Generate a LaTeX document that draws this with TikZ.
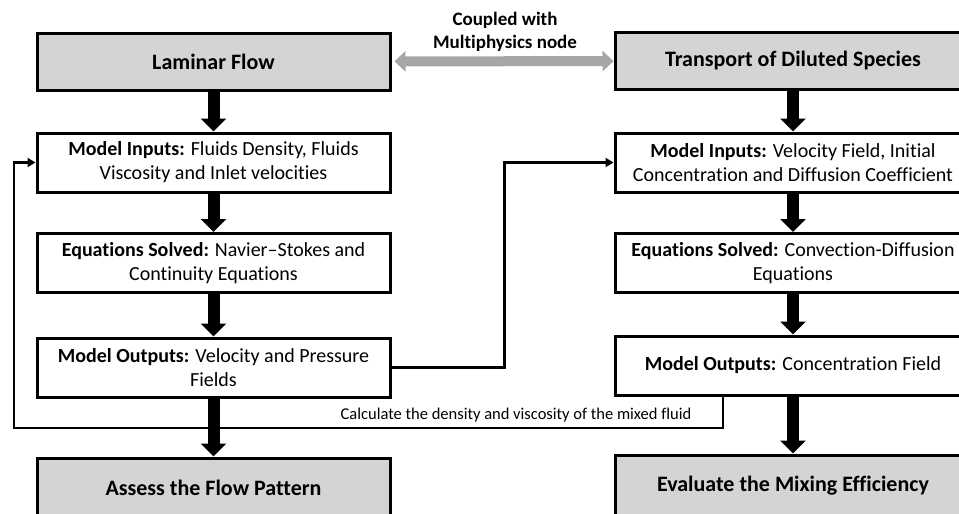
\documentclass[tikz,border=0pt]{standalone}
\usepackage{fontspec}
\setmainfont{Carlito}[Ligatures=NoCommon]
\usetikzlibrary{arrows.meta}

\begin{document}
\begin{tikzpicture}[x=1pt,y=-1pt,
    title/.style={draw, line width=3pt, fill=black!17, minimum height=57pt, font=\fontsize{22}{26}\selectfont\bfseries},
    stage/.style={draw, line width=3pt, fill=white, minimum height=59pt, align=center, font=\fontsize{20}{24}\selectfont},
    leftcol/.style={minimum width=353pt},
    rightcol/.style={minimum width=356pt},
    bigarrow/.style={line width=12pt, -{Triangle[width=25pt,length=13pt]}},
    couple/.style={line width=10pt, black!35, {Triangle[width=20pt,length=11pt]}-{Triangle[width=20pt,length=11pt]}},
    link/.style={line width=2.5pt, -{Triangle[width=9pt,length=8pt]}},
    note/.style={font=\fontsize{16.5}{19}\selectfont}]
    \useasboundingbox (0,0) rectangle (959,514);
    \clip (0,0) rectangle (959,514);

    \node[title, leftcol] (lam) at (213.5,61.5) {Laminar Flow};
    \node[stage, leftcol] (inL) at (213.5,162.5) {\textbf{Model Inputs:} Fluids Density, Fluids\\Viscosity and Inlet velocities};
    \node[stage, leftcol] (eqL) at (213.5,263) {\textbf{Equations Solved:} Navier–Stokes and\\Continuity Equations};
    \node[stage, leftcol] (outL) at (213.5,367.5) {\textbf{Model Outputs:} Velocity and Pressure\\Fields};
    \node[title, leftcol, minimum height=60pt] (assess) at (213.5,488) {Assess the Flow Pattern};

    \node[title, rightcol] (tds) at (793,61) {Transport of Diluted Species};
    \node[stage, rightcol] (inR) at (793,162.5) {\textbf{Model Inputs:} Velocity Field, Initial\\Concentration and Diffusion Coefficient};
    \node[stage, rightcol] (eqR) at (793,263) {\textbf{Equations Solved:} Convection-Diffusion\\Equations};
    \node[stage, rightcol] (outR) at (793,365.5) {\textbf{Model Outputs:} Concentration Field};
    \node[title, rightcol, minimum height=62pt] (evalR) at (793,486) {Evaluate the Mixing Efficiency};

    \node[align=center, font=\fontsize{19}{23}\selectfont\bfseries] (mph) at (505,31.5) {Coupled with\\Multiphysics node};
    \draw[couple, shorten <=3pt] (lam) -- (tds);

    \coordinate (fbR) at (723,428);
    \coordinate (fbL) at (14,428);
    \draw[link] (outL.east) -- ++(113,0) |- (inR.west);
    \draw[link] (fbR |- outR.south) -- (fbR) -- (fbL) |- (inL.west);
    \node[note] (calc) at (516,415) {Calculate the density and viscosity of the mixed fluid};

    \draw[bigarrow] (lam) -- (inL);
    \draw[bigarrow] (inL) -- (eqL);
    \draw[bigarrow] (eqL) -- (outL);
    \draw[bigarrow] (outL) -- (assess);
    \draw[bigarrow] (tds) -- (inR);
    \draw[bigarrow] (inR) -- (eqR);
    \draw[bigarrow] (eqR) -- (outR);
    \draw[bigarrow] (outR) -- (evalR);
\end{tikzpicture}
\end{document}
